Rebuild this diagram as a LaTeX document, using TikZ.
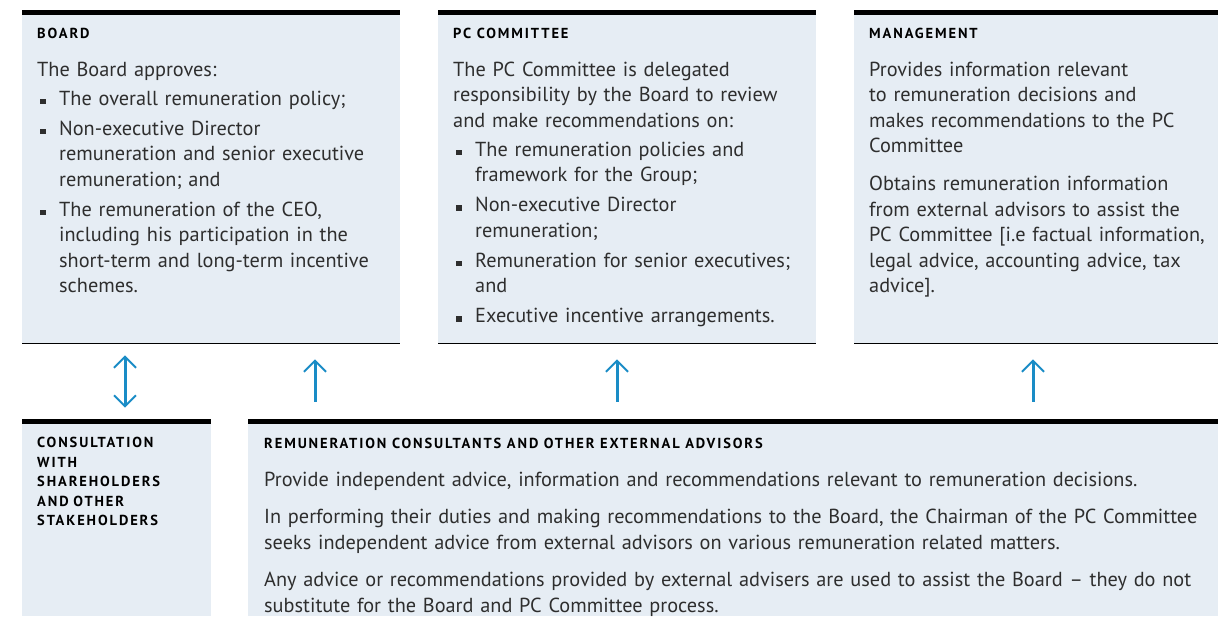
\documentclass[tikz,border=0pt]{standalone}
\usepackage{fontspec}
\setmainfont{PT Sans}
\newfontfamily\capsfamily[LetterSpace=13]{PT Sans}
\usepackage{enumitem}
\usepackage{xcolor}
\usetikzlibrary{arrows.meta}

\definecolor{panelfill}{HTML}{E6EDF4}
\definecolor{bodygrey}{HTML}{2E2E2E}
\definecolor{arrowblue}{HTML}{1A8CC6}

\newcommand{\bodysize}{\fontsize{20.3}{25.5}\selectfont}
\newcommand{\headsize}{\capsfamily\bfseries\fontsize{14.5}{19.4}\selectfont}
\newcommand{\sqbullet}{\raisebox{1.2pt}{\rule{5.5pt}{5.5pt}}}

\newlist{squares}{itemize}{1}
\setlist[squares]{label=\sqbullet, leftmargin=22pt, labelsep=13.5pt,
  itemsep=4.5pt, parsep=0pt, topsep=3.5pt, partopsep=0pt}

\begin{document}
\begin{tikzpicture}[x=1pt, y=-1pt,
  panel/.style={fill=panelfill, draw=none, inner sep=0pt, anchor=north west},
  topbar/.style={line width=5pt, black},
  bottomrule/.style={line width=1.2pt, black},
  heading/.style={font=\headsize, text=black, inner sep=0pt, anchor=base west},
  bodytext/.style={font=\bodysize, text=bodygrey, inner sep=0pt,
    anchor=north west, align=left},
  barb/.tip={Straight Barb[length=11pt, width=22pt, line width=2pt]},
  flow/.style={-{barb}, line width=3pt, arrowblue},
  twoway/.style={{barb}-{barb}, line width=3pt, arrowblue},
]
  \useasboundingbox (0,0) rectangle (1218,616);

  % Panels -- top row
  \node (board) [panel, minimum width=378pt, minimum height=333pt] at (22,10) {};
  \node (pc)    [panel, minimum width=378pt, minimum height=333pt] at (438,10) {};
  \node (mgmt)  [panel, minimum width=364pt, minimum height=333pt] at (854,10) {};
  % Panels -- bottom row
  \node (consult) [panel, minimum width=189pt, minimum height=197pt] at (22,419) {};
  \node (rem)     [panel, minimum width=970pt, minimum height=197pt] at (248,419) {};

  \foreach \p in {board, pc, mgmt, consult, rem}
    \draw[topbar] ([yshift=-2.5pt]\p.north west) -- ([yshift=-2.5pt]\p.north east);
  \foreach \p in {board, pc, mgmt}
    \draw[bottomrule] (\p.south west) -- (\p.south east);

  % Board
  \node (boardhead) [heading] at (37,38) {BOARD};
  \node (boardtext) [bodytext, text width=360pt] at (37,58.15) {%
    \strut The Board approves:
    \begin{squares}
      \item The overall remuneration policy;
      \item Non-executive Director\\ remuneration and senior executive\\ remuneration; and
      \item The remuneration of the CEO,\\ including his participation in the\\
        short-term and long-term incentive\\ schemes.
    \end{squares}};

  % PC Committee
  \node (pchead) [heading] at (453,38) {PC COMMITTEE};
  \node (pctext) [bodytext, text width=360pt] at (453,58.15) {%
    \strut The PC Committee is delegated\\ responsibility by the Board to review\\
    and make recommendations on:
    \begin{squares}
      \item The remuneration policies and\\ framework for the Group;
      \item Non-executive Director\\ remuneration;
      \item Remuneration for senior executives;\\ and
      \item Executive incentive arrangements.
    \end{squares}};

  % Management
  \node (mgmthead) [heading] at (869,38) {MANAGEMENT};
  \node (mgmttext) [bodytext, text width=349pt] at (869,58.15) {%
    \strut Provides information relevant\\ to remuneration decisions and\\
    makes recommendations to the PC\\ Committee\\[12.5pt]
    Obtains remuneration information\\ from external advisors to assist the\\
    PC Committee [i.e factual information,\\ legal advice, accounting advice, tax\\
    advice].};

  % Consultation
  \node (consulthead) [heading, anchor=north west, align=left, text width=170pt]
    at (37,434.1) {\strut CONSULTATION\\ WITH\\ SHAREHOLDERS\\ AND OTHER\\ STAKEHOLDERS};

  % Remuneration consultants
  \node (remhead) [heading] at (264,448)
    {REMUNERATION CONSULTANTS AND OTHER EXTERNAL ADVISORS};
  \node (remtext) [bodytext, text width=954pt] at (264,468.15) {%
    \strut Provide independent advice, information and recommendations relevant to remuneration decisions.\\[12pt]
    In performing their duties and making recommendations to the Board, the Chairman of the PC Committee\\
    seeks independent advice from external advisors on various remuneration related matters.\\[12pt]
    Any advice or recommendations provided by external advisers are used to assist the Board -- they do not\\
    substitute for the Board and PC Committee process.};

  % Arrows
  \coordinate (colC) at (125,0);
  \coordinate (colA) at (315,0);
  \coordinate (colB) at (617,0);
  \coordinate (colM) at (1033,0);
  \draw[twoway, shorten <=11.3pt, shorten >=12pt] (consult.north -| colC) -- (board.south -| colC);
  \draw[flow, shorten <=17.3pt, shorten >=16pt] (rem.north -| colA) -- (board.south -| colA);
  \draw[flow, shorten <=17.3pt, shorten >=16pt] (rem.north -| colB) -- (pc.south -| colB);
  \draw[flow, shorten <=17.3pt, shorten >=16pt] (rem.north -| colM) -- (mgmt.south -| colM);
\end{tikzpicture}
\end{document}
